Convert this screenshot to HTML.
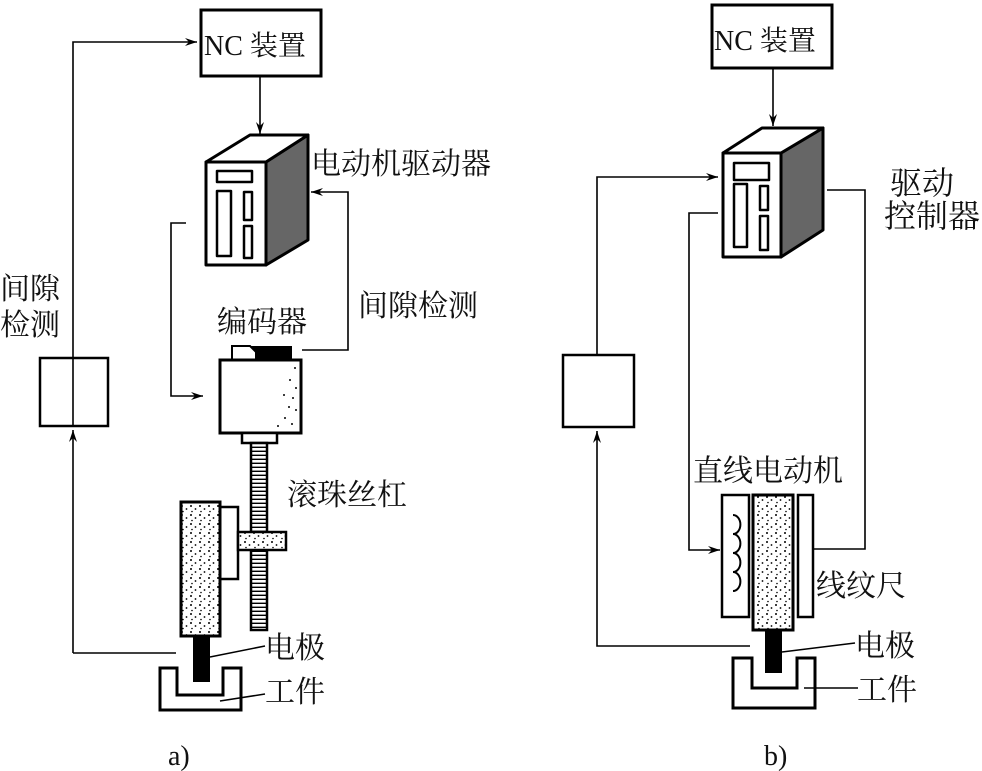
<!DOCTYPE html>
<html><head><meta charset="utf-8"><style>
html,body{margin:0;padding:0;background:#fff;}
svg{display:block;}
text{font-family:"Liberation Serif","Noto Serif CJK SC","Noto Sans CJK SC",serif;fill:#111;}
</style></head><body>
<svg width="982" height="771" viewBox="0 0 982 771" xmlns="http://www.w3.org/2000/svg">
<defs>
<pattern id="dots" width="9" height="9" patternUnits="userSpaceOnUse">
<rect width="9" height="9" fill="#fff"/>
<circle cx="2" cy="2" r="1" fill="#000"/><circle cx="6.5" cy="5" r="0.9" fill="#000"/><circle cx="3" cy="7.5" r="0.8" fill="#000"/>
</pattern>
<pattern id="thread" width="6" height="4" patternUnits="userSpaceOnUse">
<rect width="6" height="4" fill="#fff"/><rect y="2.6" width="6" height="1.4" fill="#000"/>
</pattern>
<marker id="ar" viewBox="0 0 12 8" refX="12" refY="4" markerWidth="12" markerHeight="8" markerUnits="userSpaceOnUse" orient="auto">
<path d="M0,0 L12,4 L0,8 L4,4 Z" fill="#000"/></marker>
</defs>
<g fill="none" stroke="#000" stroke-width="1.6">
<rect x="201" y="10" width="120" height="66" stroke-width="3"/>
<polyline points="73,426 73,42 197,42" marker-end="url(#ar)"/>
<line x1="260" y1="76" x2="260" y2="134" marker-end="url(#ar)"/>
<polyline points="73,653 73,430" marker-end="url(#ar)"/>
<line x1="73" y1="653" x2="176" y2="653"/>
<rect x="40" y="358" width="68" height="68" stroke-width="2.5"/>
<polyline points="186,223 171,223 171,396 203,396" marker-end="url(#ar)"/>
<polyline points="302,350 348,350 348,192 311,192" marker-end="url(#ar)"/>
</g>
<g stroke="#000" stroke-width="3" stroke-linejoin="round">
<polygon points="266,162 308,135 308,240 266,265" fill="#666"/>
<polygon points="206,162 250,135 308,135 266,162" fill="#fff"/>
<rect x="206" y="162" width="60" height="103" fill="#fff"/>
<rect x="217" y="171" width="35" height="11" fill="#fff" stroke-width="2.5"/>
<rect x="217" y="191" width="14" height="65" fill="#fff" stroke-width="2.5"/>
<rect x="244" y="192" width="8" height="28" fill="#fff" stroke-width="2.5"/>
<rect x="244" y="226" width="8" height="32" fill="#fff" stroke-width="2.5"/>
</g>
<path d="M232,346 L292,346 L292,360 L256,360 L256,352 L250,346 Z" fill="#000"/>
<path d="M232,346 L250,346 L256,352 L256,360 L232,360 Z" fill="#fff" stroke="#000" stroke-width="2"/>
<rect x="220" y="360" width="81" height="73" fill="#fff" stroke="#000" stroke-width="3"/>
<g fill="#000"><circle cx="295" cy="368" r="1"/><circle cx="290" cy="380" r="1"/><circle cx="296" cy="388" r="1"/><circle cx="284" cy="395" r="1"/><circle cx="293" cy="398" r="1"/><circle cx="289" cy="407" r="1"/><circle cx="296" cy="410" r="1"/><circle cx="285" cy="418" r="1"/><circle cx="292" cy="424" r="1"/><circle cx="278" cy="426" r="1"/></g>
<rect x="242" y="433" width="35" height="10" fill="#fff" stroke="#000" stroke-width="2.5"/>
<rect x="251" y="443" width="16" height="187" fill="url(#thread)" stroke="#000" stroke-width="2.5"/>
<rect x="220" y="507" width="18" height="72" fill="#fff" stroke="#000" stroke-width="2.5"/>
<rect x="238" y="532" width="48" height="18" fill="url(#dots)" stroke="#000" stroke-width="2.5"/>
<rect x="181" y="502" width="39" height="134" fill="url(#dots)" stroke="#000" stroke-width="3"/>
<rect x="193" y="636" width="17" height="46" fill="#000"/>
<path d="M160,668 L177,668 L177,695 L223,695 L223,668 L241,668 L241,710 L160,710 Z" fill="none" stroke="#000" stroke-width="3"/>
<line x1="210" y1="657" x2="265" y2="646" stroke="#000" stroke-width="1.5"/>
<line x1="220" y1="701" x2="265" y2="694" stroke="#000" stroke-width="1.5"/>

<g fill="none" stroke="#000" stroke-width="1.6">
<rect x="712" y="5" width="120" height="63" stroke-width="3"/>
<line x1="773" y1="68" x2="773" y2="126" marker-end="url(#ar)"/>
<polyline points="597,355 597,177 718,177" marker-end="url(#ar)"/>
<polyline points="718,213 689,213 689,550 720,550" marker-end="url(#ar)"/>
<polyline points="827,190 865,190 865,549 813,549"/>
<rect x="563" y="355" width="71" height="72" stroke-width="2.5"/>
<polyline points="750,646 597,646 597,431" marker-end="url(#ar)"/>
</g>
<g stroke="#000" stroke-width="3" stroke-linejoin="round">
<polygon points="781,153 823,128 823,230 781,257" fill="#666"/>
<polygon points="723,153 762,128 823,128 781,153" fill="#fff"/>
<rect x="723" y="153" width="58" height="104" fill="#fff"/>
<rect x="734" y="163" width="35" height="17" fill="#fff" stroke-width="2.5"/>
<rect x="734" y="184" width="13" height="63" fill="#fff" stroke-width="2.5"/>
<rect x="760" y="186" width="8" height="24" fill="#fff" stroke-width="2.5"/>
<rect x="760" y="216" width="8" height="34" fill="#fff" stroke-width="2.5"/>
</g>
<rect x="722" y="495" width="27" height="122" fill="#fff" stroke="#000" stroke-width="2.5"/>
<path d="M733,515 a7,9 0 0 1 0,19 a7,9 0 0 1 0,19 a7,9 0 0 1 0,19 a7,9 0 0 1 0,19" fill="none" stroke="#000" stroke-width="2"/>
<rect x="753" y="495" width="40" height="135" fill="url(#dots)" stroke="#000" stroke-width="3"/>
<rect x="798" y="495" width="15" height="122" fill="#fff" stroke="#000" stroke-width="2.5"/>
<rect x="765" y="630" width="17" height="43" fill="#000"/>
<path d="M733,658 L752,658 L752,688 L797,688 L797,658 L815,658 L815,708 L733,708 Z" fill="none" stroke="#000" stroke-width="3"/>
<line x1="782" y1="652" x2="855" y2="643" stroke="#000" stroke-width="1.5"/>
<line x1="804" y1="688" x2="858" y2="688" stroke="#000" stroke-width="1.5"/>

<g font-size="30">
<text x="204" y="55" font-size="28">NC 装置</text>
<text x="714" y="50" font-size="28">NC 装置</text>
<text x="311" y="174">电动机驱动器</text>
<text x="358" y="316">间隙检测</text>
<text x="217" y="332">编码器</text>
<text x="0" y="299">间隙</text>
<text x="0" y="335">检测</text>
<text x="287" y="505">滚珠丝杠</text>
<text x="265" y="658">电极</text>
<text x="265" y="702">工件</text>
<text x="890" y="194" font-size="32">驱动</text>
<text x="884" y="227" font-size="32">控制器</text>
<text x="693" y="481">直线电动机</text>
<text x="816" y="596">线纹尺</text>
<text x="855" y="656">电极</text>
<text x="857" y="700">工件</text>
<text x="168" y="765" font-size="28">a)</text>
<text x="764" y="765" font-size="28">b)</text>
</g>
</svg>
</body></html>
